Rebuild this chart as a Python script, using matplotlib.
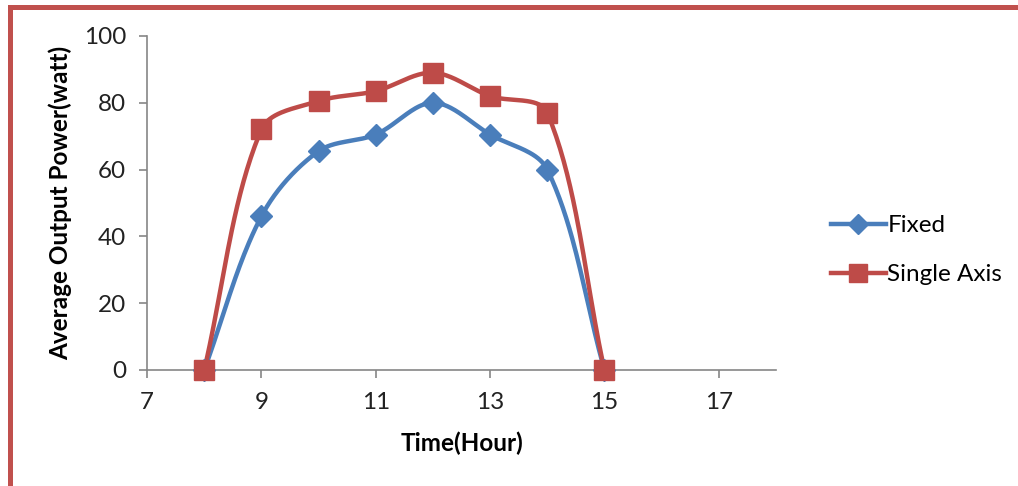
import numpy as np
import matplotlib.pyplot as plt
from matplotlib.patches import Rectangle

hours = [8, 9, 10, 11, 12, 13, 14, 15]
fixed = [0, 46, 65.5, 70.5, 80, 70.5, 60, 0]
single_axis = [0, 72, 80.5, 83.5, 89, 82, 77, 0]

BLUE = '#4A7EBB'
RED = '#BE4B48'
GREY = '#868686'


def smooth(ax, xs, ys, n=40, f=1 / 3):
    # bezier "smoothed line": control arms scaled by neighbouring segment lengths,
    # worked out in display space so the shape doesn't depend on axis units
    pts = ax.transData.transform(np.column_stack([xs, ys]))
    p = np.vstack([pts[0], pts, pts[-1]])
    t = np.linspace(0, 1, n)[:, None]
    out = []
    for i in range(1, len(p) - 2):
        p0, p1, p2, p3 = p[i - 1], p[i], p[i + 1], p[i + 2]
        d01 = np.hypot(*(p1 - p0))
        d12 = np.hypot(*(p2 - p1))
        d23 = np.hypot(*(p3 - p2))
        c1 = p1 + (p2 - p0) * f * d12 / (d01 + d12)
        c2 = p2 - (p3 - p1) * f * d12 / (d12 + d23)
        seg = ((1 - t) ** 3 * p1 + 3 * (1 - t) ** 2 * t * c1
               + 3 * (1 - t) * t ** 2 * c2 + t ** 3 * p2)
        out.append(seg if i == 1 else seg[1:])
    out = ax.transData.inverted().transform(np.vstack(out))
    return out[:, 0], out[:, 1]


plt.rcParams['font.family'] = ['Lato', 'DejaVu Sans']

fig = plt.figure(figsize=(10.18, 4.86), dpi=100)
ax = fig.add_axes([0.1444, 0.2387, 0.6179, 0.6873])
ax.set_xlim(7, 18)
ax.set_ylim(0, 100)

for ys, color, marker, ms, label in [
        (fixed, BLUE, 'D', 11, 'Fixed'),
        (single_axis, RED, 's', 15, 'Single Axis')]:
    sx, sy = smooth(ax, hours, ys)
    ax.plot(sx, sy, color=color, lw=3.2, solid_capstyle='round', clip_on=False)
    ax.plot(hours, ys, linestyle='none', marker=marker, ms=ms, color=color,
            clip_on=False, zorder=3)
    ax.plot([], [], color=color, lw=3.2, marker=marker, ms=ms * 0.9, label=label)

ax.set_xticks([7, 9, 11, 13, 15, 17])
ax.set_yticks([0, 20, 40, 60, 80, 100])
for side in ('top', 'right'):
    ax.spines[side].set_visible(False)
for side in ('left', 'bottom'):
    ax.spines[side].set_color(GREY)
    ax.spines[side].set_linewidth(1.2)
    ax.spines[side].set_zorder(1)
ax.tick_params(colors=GREY, labelcolor='#222222', labelsize=17.5, length=6, width=1.2)
ax.tick_params(axis='x', pad=10)
ax.tick_params(axis='y', pad=9)

ax.set_xlabel('Time(Hour)', fontsize=17.5, fontweight='bold', va='center')
ax.set_ylabel('Average Output Power(watt)', fontsize=17.5, fontweight='bold', va='center')
ax.xaxis.set_label_coords(0.5, -0.2186)
ax.yaxis.set_label_coords(-0.138, 0.5)

ax.legend(loc='center left', bbox_to_anchor=(1.052, 0.359), frameon=False,
          fontsize=17.5, handlelength=2.26, handletextpad=0.08, labelspacing=1.15)

# red frame around the chart area
fig.patches.append(Rectangle((9.5 / 1018, -0.2), 1.2, 1.2 - 6.5 / 486,
                             transform=fig.transFigure, fill=False,
                             edgecolor='#C0504D', linewidth=3.6, clip_on=False))

fig.savefig('out.png', dpi=100)
